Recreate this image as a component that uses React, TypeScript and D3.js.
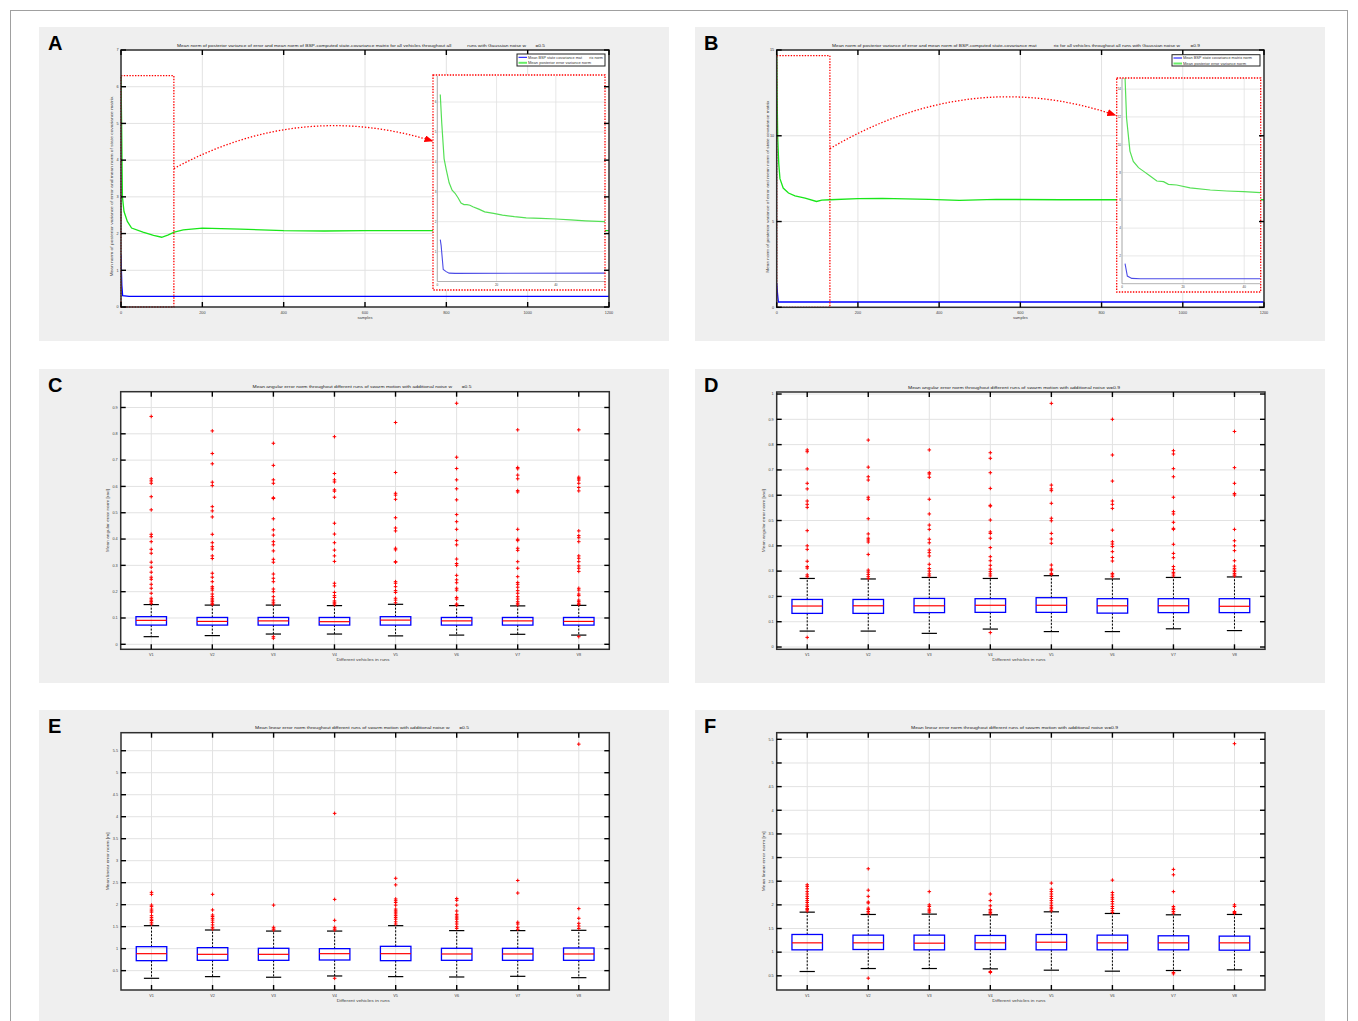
import React from 'react';
import * as d3 from 'd3';

type Pt = [number, number];
const FONT = "'Liberation Sans', Arial, Helvetica, sans-serif";

// ================= Panel A (w = 0.5) =================
const aXTicks = [0, 200, 400, 600, 800, 1000, 1200];
const aYTicks = [0, 1, 2, 3, 4, 5, 6, 7];
const aGreen: Pt[] = [[0, 6.3], [1.6, 4.9], [3.5, 3.0], [7.4, 2.6], [15.6, 2.33], [26, 2.15], [54, 2.04], [80, 1.95], [100, 1.9], [115, 1.96], [131, 2.04], [153, 2.1], [200, 2.15], [293, 2.12], [400, 2.08], [500, 2.07], [600, 2.08], [800, 2.08], [1200, 2.08]];
const aBlue: Pt[] = [[0, 1.42], [2, 0.6], [4, 0.31], [20, 0.29], [1200, 0.29]];
const aInsetGreen: Pt[] = [[1, 6.25], [1.5, 5.3], [2.3, 4.1], [3, 3.75], [4, 3.3], [5, 3.05], [6, 2.95], [7, 2.8], [8, 2.62], [9, 2.57], [10, 2.57], [11, 2.55], [12, 2.5], [14, 2.42], [16, 2.33], [19, 2.28], [22, 2.22], [26, 2.17], [30, 2.13], [35, 2.11], [40, 2.09], [45, 2.06], [50, 2.03], [56.6, 2.0]];
const aInsetBlue: Pt[] = [[1, 1.4], [1.3, 1.2], [2, 0.4], [3, 0.33], [4, 0.28], [6, 0.27], [56.6, 0.28]];
const aInsetXTicks = [0, 20, 40];
const aInsetYTicks = [1, 2, 3, 4, 5, 6];

// ================= Panel B (w = 0.9) =================
const bXTicks = [0, 200, 400, 600, 800, 1000, 1200];
const bYTicks = [0, 5, 10, 15];
const bGreen: Pt[] = [[0, 14.8], [1, 12.4], [2.5, 9.9], [5, 8.4], [8, 7.5], [16, 6.95], [29, 6.66], [45, 6.5], [70, 6.37], [98, 6.17], [111, 6.25], [131, 6.27], [200, 6.33], [260, 6.35], [375, 6.29], [450, 6.23], [540, 6.29], [700, 6.27], [850, 6.27], [1200, 6.27]];
const bBlue: Pt[] = [[0, 1.42], [2, 0.8], [4, 0.31], [1200, 0.31]];
const bInsetGreen: Pt[] = [[0.8, 15.5], [1.0, 14.8], [1.5, 11.9], [2.6, 9.54], [3.7, 8.8], [5.4, 8.35], [7.0, 8.1], [9.2, 7.75], [11.4, 7.39], [13.6, 7.34], [15.2, 7.15], [17.9, 7.1], [22.3, 6.9], [28.9, 6.74], [34.3, 6.67], [39.8, 6.62], [45.4, 6.55]];
const bInsetBlue: Pt[] = [[1.0, 1.44], [1.75, 0.55], [3.2, 0.38], [6, 0.36], [45.4, 0.36]];
const bInsetXTicks = [0, 20, 40];
const bInsetYTicks = [2, 4, 6, 8, 10, 12, 14];

// ================= Box plots =================
const vehicles = ['V1', 'V2', 'V3', 'V4', 'V5', 'V6', 'V7', 'V8'];

// C: angular error, w = 0.5
const cTicks = [0, 0.1, 0.2, 0.3, 0.4, 0.5, 0.6, 0.7, 0.8, 0.9];
const cQ1 = [0.073, 0.073, 0.073, 0.073, 0.073, 0.073, 0.073, 0.073];
const cMed = [0.091, 0.087, 0.089, 0.086, 0.092, 0.089, 0.089, 0.087];
const cQ3 = [0.105, 0.102, 0.102, 0.102, 0.105, 0.102, 0.102, 0.102];
const cLo = [0.029, 0.033, 0.039, 0.039, 0.032, 0.035, 0.038, 0.035];
const cHi = [0.151, 0.149, 0.149, 0.147, 0.152, 0.147, 0.146, 0.148];
const cOut = [
  [0.866, 0.629, 0.621, 0.612, 0.561, 0.511, 0.418, 0.409, 0.39, 0.361, 0.346, 0.312, 0.293, 0.274, 0.255, 0.247, 0.228, 0.213, 0.194, 0.175, 0.168, 0.162, 0.156],
  [0.811, 0.725, 0.686, 0.616, 0.603, 0.523, 0.507, 0.484, 0.418, 0.386, 0.371, 0.362, 0.336, 0.326, 0.27, 0.255, 0.238, 0.219, 0.213, 0.206, 0.191, 0.181, 0.173, 0.168, 0.162, 0.156, 0.151],
  [0.764, 0.68, 0.625, 0.612, 0.557, 0.554, 0.477, 0.435, 0.415, 0.39, 0.378, 0.355, 0.323, 0.312, 0.267, 0.251, 0.238, 0.21, 0.2, 0.181, 0.168, 0.16, 0.153, 0.029, 0.023],
  [0.789, 0.649, 0.625, 0.617, 0.587, 0.582, 0.559, 0.46, 0.419, 0.386, 0.358, 0.336, 0.315, 0.232, 0.222, 0.197, 0.185, 0.178, 0.165, 0.16, 0.156, 0.15],
  [0.843, 0.653, 0.574, 0.567, 0.551, 0.481, 0.442, 0.431, 0.365, 0.359, 0.314, 0.312, 0.238, 0.232, 0.219, 0.204, 0.197, 0.175, 0.168, 0.158],
  [0.916, 0.711, 0.668, 0.625, 0.591, 0.549, 0.493, 0.466, 0.437, 0.394, 0.378, 0.324, 0.307, 0.3, 0.262, 0.245, 0.234, 0.213, 0.206, 0.178, 0.172, 0.153, 0.149],
  [0.815, 0.672, 0.667, 0.643, 0.629, 0.584, 0.579, 0.437, 0.399, 0.394, 0.365, 0.357, 0.314, 0.289, 0.257, 0.235, 0.228, 0.217, 0.204, 0.194, 0.181, 0.172, 0.162, 0.156, 0.15],
  [0.815, 0.635, 0.629, 0.624, 0.612, 0.596, 0.583, 0.431, 0.413, 0.405, 0.39, 0.336, 0.327, 0.314, 0.298, 0.289, 0.277, 0.213, 0.206, 0.191, 0.185, 0.168, 0.162, 0.156, 0.151, 0.029],
];

// D: angular error, w = 0.9
const dTicks = [0, 0.1, 0.2, 0.3, 0.4, 0.5, 0.6, 0.7, 0.8, 0.9, 1];
const dQ1 = [0.133, 0.133, 0.136, 0.137, 0.137, 0.134, 0.136, 0.136];
const dMed = [0.162, 0.163, 0.163, 0.165, 0.165, 0.163, 0.163, 0.161];
const dQ3 = [0.188, 0.188, 0.192, 0.191, 0.195, 0.191, 0.191, 0.191];
const dLo = [0.063, 0.063, 0.054, 0.071, 0.061, 0.061, 0.072, 0.065];
const dHi = [0.271, 0.269, 0.275, 0.271, 0.282, 0.269, 0.275, 0.277];
const dOut = [
  [0.779, 0.772, 0.704, 0.647, 0.625, 0.577, 0.564, 0.552, 0.46, 0.4, 0.386, 0.339, 0.318, 0.312, 0.285, 0.278, 0.038],
  [0.818, 0.711, 0.673, 0.66, 0.592, 0.584, 0.507, 0.447, 0.43, 0.423, 0.415, 0.366, 0.304, 0.296, 0.287, 0.278, 0.271],
  [0.779, 0.689, 0.684, 0.671, 0.584, 0.526, 0.482, 0.465, 0.426, 0.412, 0.383, 0.373, 0.36, 0.327, 0.31, 0.3, 0.289, 0.281],
  [0.768, 0.746, 0.689, 0.627, 0.56, 0.557, 0.502, 0.455, 0.449, 0.43, 0.393, 0.357, 0.341, 0.323, 0.308, 0.298, 0.289, 0.281, 0.057],
  [0.963, 0.64, 0.625, 0.618, 0.568, 0.509, 0.499, 0.449, 0.427, 0.41, 0.324, 0.308, 0.304, 0.291, 0.287],
  [0.9, 0.759, 0.656, 0.577, 0.564, 0.548, 0.462, 0.416, 0.407, 0.397, 0.377, 0.354, 0.34, 0.291, 0.285, 0.278],
  [0.776, 0.763, 0.705, 0.673, 0.592, 0.535, 0.526, 0.493, 0.469, 0.465, 0.406, 0.37, 0.353, 0.318, 0.307, 0.295, 0.289, 0.281],
  [0.852, 0.709, 0.647, 0.607, 0.601, 0.465, 0.42, 0.4, 0.381, 0.341, 0.32, 0.311, 0.304, 0.298, 0.291, 0.285, 0.281],
];

// E: linear error, w = 0.5
const eTicks = [0.5, 1, 1.5, 2, 2.5, 3, 3.5, 4, 4.5, 5, 5.5];
const eQ1 = [0.727, 0.735, 0.735, 0.742, 0.727, 0.735, 0.735, 0.735];
const eMed = [0.886, 0.871, 0.871, 0.886, 0.886, 0.879, 0.879, 0.879];
const eQ3 = [1.045, 1.023, 1.008, 1.0, 1.053, 1.008, 1.008, 1.015];
const eLo = [0.326, 0.364, 0.35, 0.379, 0.364, 0.356, 0.371, 0.34];
const eHi = [1.523, 1.424, 1.4, 1.4, 1.523, 1.41, 1.41, 1.417];
const eOut = [
  [2.28, 2.235, 1.99, 1.955, 1.9, 1.86, 1.83, 1.75, 1.71, 1.67, 1.64, 1.6, 1.56],
  [2.235, 1.88, 1.765, 1.73, 1.69, 1.65, 1.6, 1.54, 1.485, 1.447],
  [1.99, 1.485, 1.447, 1.424],
  [4.076, 2.12, 1.644, 1.485, 1.447, 1.424, 0.326],
  [2.6, 2.45, 2.13, 2.09, 2.05, 1.99, 1.9, 1.86, 1.83, 1.79, 1.75, 1.71, 1.67, 1.61, 1.56],
  [2.14, 2.1, 1.99, 1.856, 1.78, 1.74, 1.7, 1.67, 1.61, 1.56, 1.5, 1.46],
  [2.55, 2.265, 1.6, 1.56, 1.485, 1.44],
  [5.65, 1.91, 1.69, 1.576, 1.515, 1.46],
];

// F: linear error, w = 0.9
const fTicks = [0.5, 1, 1.5, 2, 2.5, 3, 3.5, 4, 4.5, 5, 5.5];
const fQ1 = [1.049, 1.056, 1.049, 1.056, 1.049, 1.049, 1.049, 1.042];
const fMed = [1.197, 1.197, 1.19, 1.197, 1.21, 1.197, 1.197, 1.197];
const fQ3 = [1.374, 1.36, 1.36, 1.353, 1.374, 1.36, 1.346, 1.339];
const fLo = [0.591, 0.654, 0.654, 0.647, 0.619, 0.598, 0.612, 0.626];
const fHi = [1.846, 1.797, 1.804, 1.79, 1.853, 1.818, 1.79, 1.797];
const fOut = [
  [2.425, 2.39, 2.34, 2.28, 2.23, 2.18, 2.135, 2.09, 2.05, 2.0, 1.966, 1.924, 1.9, 1.87],
  [2.763, 2.31, 2.18, 2.06, 2.04, 1.93, 1.9, 1.86, 1.825, 0.45],
  [2.28, 2.0, 1.966, 1.91, 1.875, 1.846],
  [2.23, 2.09, 1.98, 1.9, 1.87, 1.84, 1.81, 0.59, 0.57],
  [2.46, 2.33, 2.28, 2.23, 2.18, 2.135, 2.09, 2.04, 1.99, 1.95, 1.917, 1.875],
  [2.523, 2.26, 2.21, 2.16, 2.12, 2.07, 2.02, 1.966, 1.924, 1.875, 1.84],
  [2.75, 2.636, 2.28, 1.966, 1.93, 1.9, 1.86, 1.825, 0.57, 0.542],
  [5.408, 2.0, 1.966, 1.86, 1.84, 1.818],
];

// ================= styling =================
const RED = '#ff0000';
const BLUE = '#0000ff';
const GREEN = '#19e619';
const GRID = '#e2e2e2';
const AXIS = '#303030';
const TXT = '#404040';
const PANEL_BG = '#efefef';

const fmt = (v: number) => String(+v.toFixed(2));

type Rect = { x0: number; x1: number; y0: number; y1: number };

function Ticks({ p, xs, ys, len = 5, w = 1.4 }: { p: Rect; xs: number[]; ys: number[]; len?: number; w?: number }) {
  return (
    <g stroke="#000" strokeWidth={w}>
      {xs.map((x, i) => (
        <g key={'x' + i}>
          <line x1={x} x2={x} y1={p.y1} y2={p.y1 - len} />
          <line x1={x} x2={x} y1={p.y0} y2={p.y0 + len} />
        </g>
      ))}
      {ys.map((y, i) => (
        <g key={'y' + i}>
          <line x1={p.x0} x2={p.x0 + len} y1={y} y2={y} />
          <line x1={p.x1} x2={p.x1 - len} y1={y} y2={y} />
        </g>
      ))}
    </g>
  );
}

function PanelBg({ x, y, w, h, letter }: { x: number; y: number; w: number; h: number; letter: string }) {
  return (
    <g>
      <rect x={x} y={y} width={w} height={h} fill={PANEL_BG} />
      <text x={x + 9} y={y + 23} fontFamily={FONT} fontWeight="bold" fontSize={20} fill="#000">{letter}</text>
    </g>
  );
}

type LineCfg = {
  id: string;
  plot: Rect;
  yDomain: [number, number];
  xTicks: number[];
  yTicks: number[];
  title: string; titleX: number; titleLen: number;
  ylabel: string; ylabelLen: number;
  green: Pt[]; blue: Pt[];
  zoomBox: Pt;
  arc: [Pt, Pt, Pt];
  box: Rect;
  inset: Rect;
  insetX: [number, number]; insetY: [number, number];
  insetXTicks: number[]; insetYTicks: number[];
  insetGreen: Pt[]; insetBlue: Pt[];
  legend: Rect; legendLabels: [string, string]; legendLens: [number, number];
};

function LinePanel({ c }: { c: LineCfg }) {
  const p = c.plot;
  const x = d3.scaleLinear().domain([0, 1200]).range([p.x0, p.x1]);
  const y = d3.scaleLinear().domain(c.yDomain).range([p.y1, p.y0]);
  const line = d3.line<Pt>().x(d => x(d[0])).y(d => y(d[1]));
  const q = c.inset;
  const ix = d3.scaleLinear().domain(c.insetX).range([q.x0, q.x1]);
  const iy = d3.scaleLinear().domain(c.insetY).range([q.y1, q.y0]);
  const iline = d3.line<Pt>().x(d => ix(d[0])).y(d => iy(d[1]));
  const arc = d3.path();
  arc.moveTo(x(c.arc[0][0]), y(c.arc[0][1]));
  arc.quadraticCurveTo(x(c.arc[1][0]), y(c.arc[1][1]), x(c.arc[2][0]), y(c.arc[2][1]));
  const L = c.legend;
  const midY = (p.y0 + p.y1) / 2;
  return (
    <g>
      <defs>
        <clipPath id={'clip' + c.id}><rect x={p.x0} y={p.y0} width={p.x1 - p.x0} height={p.y1 - p.y0} /></clipPath>
        <clipPath id={'iclip' + c.id}><rect x={q.x0} y={q.y0} width={q.x1 - q.x0} height={q.y1 - q.y0} /></clipPath>
        <marker id={'arr' + c.id} markerWidth={9} markerHeight={7} refX={8} refY={3.5} orient="auto" markerUnits="userSpaceOnUse">
          <path d="M0,0 L9,3.5 L0,7 Z" fill={RED} />
        </marker>
      </defs>
      <rect x={p.x0} y={p.y0} width={p.x1 - p.x0} height={p.y1 - p.y0} fill="#fff" />
      {c.xTicks.map((t, i) => <line key={'gx' + i} x1={x(t)} x2={x(t)} y1={p.y0} y2={p.y1} stroke={GRID} strokeWidth={1} />)}
      {c.yTicks.map((t, i) => <line key={'gy' + i} x1={p.x0} x2={p.x1} y1={y(t)} y2={y(t)} stroke={GRID} strokeWidth={1} />)}
      <g clipPath={`url(#clip${c.id})`}>
        <path d={line(c.green) || ''} fill="none" stroke={GREEN} strokeWidth={1.3} />
        <path d={line(c.blue) || ''} fill="none" stroke={BLUE} strokeWidth={1.3} />
      </g>
      {/* zoom rectangle */}
      <rect x={x(0)} y={y(c.zoomBox[1])} width={x(c.zoomBox[0]) - x(0)} height={y(c.yDomain[0]) - y(c.zoomBox[1])}
        fill="none" stroke={RED} strokeWidth={1.3} strokeDasharray="1.4,1.4" />
      {/* inset */}
      <rect x={c.box.x0} y={c.box.y0} width={c.box.x1 - c.box.x0} height={c.box.y1 - c.box.y0} fill="#fff" />
      {c.insetXTicks.map((t, i) => <line key={'igx' + i} x1={ix(t)} x2={ix(t)} y1={q.y0} y2={q.y1} stroke={GRID} strokeWidth={0.8} />)}
      {c.insetYTicks.map((t, i) => <line key={'igy' + i} x1={q.x0} x2={q.x1} y1={iy(t)} y2={iy(t)} stroke={GRID} strokeWidth={0.8} />)}
      <g clipPath={`url(#iclip${c.id})`}>
        <path d={iline(c.insetGreen) || ''} fill="none" stroke="#55e055" strokeWidth={1.2} />
        <path d={iline(c.insetBlue) || ''} fill="none" stroke="#4b4be6" strokeWidth={1.1} />
      </g>
      <line x1={q.x0} x2={q.x0} y1={q.y0} y2={q.y1} stroke="#aaa" strokeWidth={0.9} />
      <line x1={q.x0} x2={q.x1} y1={q.y1} y2={q.y1} stroke="#aaa" strokeWidth={0.9} />
      {c.insetXTicks.map((t, i) => <text key={'ixl' + i} x={ix(t)} y={q.y1 + 4} fontSize={3} fontFamily={FONT} fill={TXT} textAnchor="middle">{t}</text>)}
      {c.insetYTicks.map((t, i) => <text key={'iyl' + i} x={q.x0 - 1} y={iy(t) + 1} fontSize={3} fontFamily={FONT} fill={TXT} textAnchor="end">{t}</text>)}
      <rect x={c.box.x0} y={c.box.y0} width={c.box.x1 - c.box.x0} height={c.box.y1 - c.box.y0}
        fill="none" stroke={RED} strokeWidth={1.3} strokeDasharray="1.4,1.4" />
      <path d={arc.toString()} fill="none" stroke={RED} strokeWidth={1.3} strokeDasharray="1.4,1.8" markerEnd={`url(#arr${c.id})`} />
      {/* frame */}
      <rect x={p.x0} y={p.y0} width={p.x1 - p.x0} height={p.y1 - p.y0} fill="none" stroke={AXIS} strokeWidth={1.5} />
      <Ticks p={p} xs={c.xTicks.map(t => x(t))} ys={c.yTicks.map(t => y(t))} />
      {c.xTicks.map((t, i) => <text key={'xl' + i} x={x(t)} y={p.y1 + 6.5} fontSize={3.8} fontFamily={FONT} fill={TXT} textAnchor="middle">{t}</text>)}
      {c.yTicks.map((t, i) => <text key={'yl' + i} x={p.x0 - 2.5} y={y(t) + 1.3} fontSize={3.8} fontFamily={FONT} fill={TXT} textAnchor="end">{t}</text>)}
      <text x={(p.x0 + p.x1) / 2} y={p.y1 + 12} fontSize={4} fontFamily={FONT} fill={TXT} textAnchor="middle">samples</text>
      <text x={c.titleX} y={p.y0 - 3.5} fontSize={4.3} fontFamily={FONT} fill="#222" textAnchor="middle"
        textLength={c.titleLen} lengthAdjust="spacingAndGlyphs" style={{ whiteSpace: 'pre' }}>{c.title}</text>
      <text transform={`translate(${p.x0 - 8},${midY + 8}) rotate(-90)`} fontSize={4} fontFamily={FONT} fill={TXT} textAnchor="middle"
        textLength={c.ylabelLen} lengthAdjust="spacingAndGlyphs" style={{ whiteSpace: 'pre' }}>{c.ylabel}</text>
      {/* legend */}
      <rect x={L.x0} y={L.y0} width={L.x1 - L.x0} height={L.y1 - L.y0} fill="#fff" stroke="#222" strokeWidth={1} />
      <line x1={L.x0 + 1.5} x2={L.x0 + 10} y1={L.y0 + 3.3} y2={L.y0 + 3.3} stroke={BLUE} strokeWidth={1} />
      <line x1={L.x0 + 1.5} x2={L.x0 + 10} y1={L.y0 + 8.8} y2={L.y0 + 8.8} stroke="#66ee66" strokeWidth={2} />
      <text x={L.x0 + 11} y={L.y0 + 4.5} fontSize={3.2} fontFamily={FONT} fill="#333" textLength={c.legendLens[0]} lengthAdjust="spacingAndGlyphs" style={{ whiteSpace: 'pre' }}>{c.legendLabels[0]}</text>
      <text x={L.x0 + 11} y={L.y0 + 10} fontSize={3.2} fontFamily={FONT} fill="#333" textLength={c.legendLens[1]} lengthAdjust="spacingAndGlyphs">{c.legendLabels[1]}</text>
    </g>
  );
}

type BoxCfg = {
  id: string;
  plot: Rect;
  yDomain: [number, number];
  yTicks: number[];
  q1: number[]; med: number[]; q3: number[]; lo: number[]; hi: number[]; out: number[][];
  title: string; titleX: number; titleLen: number;
  ylabel: string; ylabelLen: number;
};

function BoxPanel({ c }: { c: BoxCfg }) {
  const p = c.plot;
  const x = d3.scaleBand<string>().domain(vehicles).range([p.x0, p.x1]).padding(0);
  const bw = x.bandwidth();
  const cx = (v: string) => (x(v) as number) + bw / 2;
  const y = d3.scaleLinear().domain(c.yDomain).range([p.y1, p.y0]);
  const hw = bw * 0.25;
  const cw = bw * 0.125;
  return (
    <g>
      <rect x={p.x0} y={p.y0} width={p.x1 - p.x0} height={p.y1 - p.y0} fill="#fff" />
      {vehicles.map((v, i) => <line key={'gx' + i} x1={cx(v)} x2={cx(v)} y1={p.y0} y2={p.y1} stroke={GRID} strokeWidth={1} />)}
      {c.yTicks.map((t, i) => <line key={'gy' + i} x1={p.x0} x2={p.x1} y1={y(t)} y2={y(t)} stroke={GRID} strokeWidth={1} />)}
      {vehicles.map((v, i) => {
        const X = cx(v);
        return (
          <g key={v}>
            <line x1={X} x2={X} y1={y(c.q3[i])} y2={y(c.hi[i])} stroke="#000" strokeWidth={1} strokeDasharray="2,1.5" />
            <line x1={X} x2={X} y1={y(c.q1[i])} y2={y(c.lo[i])} stroke="#000" strokeWidth={1} strokeDasharray="2,1.5" />
            <line x1={X - cw} x2={X + cw} y1={y(c.hi[i])} y2={y(c.hi[i])} stroke="#000" strokeWidth={1.2} />
            <line x1={X - cw} x2={X + cw} y1={y(c.lo[i])} y2={y(c.lo[i])} stroke="#000" strokeWidth={1.2} />
            <rect x={X - hw} y={y(c.q3[i])} width={hw * 2} height={y(c.q1[i]) - y(c.q3[i])} fill="none" stroke={BLUE} strokeWidth={1.3} />
            <line x1={X - hw} x2={X + hw} y1={y(c.med[i])} y2={y(c.med[i])} stroke={RED} strokeWidth={1.2} />
            {c.out[i].map((o, j) => (
              <path key={j} d={`M${X - 1.8},${y(o)}h3.6M${X},${y(o) - 1.8}v3.6`} stroke={RED} strokeWidth={1} />
            ))}
          </g>
        );
      })}
      <rect x={p.x0} y={p.y0} width={p.x1 - p.x0} height={p.y1 - p.y0} fill="none" stroke={AXIS} strokeWidth={1.5} />
      <Ticks p={p} xs={vehicles.map(cx)} ys={c.yTicks.map(t => y(t))} />
      {vehicles.map((v, i) => <text key={'xl' + i} x={cx(v)} y={p.y1 + 6.5} fontSize={3.8} fontFamily={FONT} fill={TXT} textAnchor="middle">{v}</text>)}
      {c.yTicks.map((t, i) => <text key={'yl' + i} x={p.x0 - 3} y={y(t) + 1.3} fontSize={3.8} fontFamily={FONT} fill={TXT} textAnchor="end">{fmt(t)}</text>)}
      <text x={(p.x0 + p.x1) / 2 - 2} y={p.y1 + 12} fontSize={4} fontFamily={FONT} fill={TXT} textAnchor="middle" textLength={53} lengthAdjust="spacingAndGlyphs">Different vehicles in runs</text>
      <text x={c.titleX} y={p.y0 - 3.5} fontSize={4.3} fontFamily={FONT} fill="#222" textAnchor="middle"
        textLength={c.titleLen} lengthAdjust="spacingAndGlyphs" style={{ whiteSpace: 'pre' }}>{c.title}</text>
      <text transform={`translate(${p.x0 - 12},${(p.y0 + p.y1) / 2}) rotate(-90)`} fontSize={4} fontFamily={FONT} fill={TXT} textAnchor="middle"
        textLength={c.ylabelLen} lengthAdjust="spacingAndGlyphs">{c.ylabel}</text>
    </g>
  );
}

const cfgA: LineCfg = {
  id: 'A', plot: { x0: 121, x1: 609, y0: 50, y1: 307 }, yDomain: [0, 7], xTicks: aXTicks, yTicks: aYTicks,
  title: 'Mean norm of posterior variance of error and mean norm of BSP-computed state-covariance matrix for all vehicles throughout all            runs with Gaussian noise w       =0.5',
  titleX: 361, titleLen: 368,
  ylabel: 'Mean norm of posterior variance of error and mean norm of state covariance matrix', ylabelLen: 180,
  green: aGreen, blue: aBlue, zoomBox: [130, 6.3],
  arc: [[130, 3.77], [440, 5.64], [766, 4.52]],
  box: { x0: 433, x1: 605, y0: 75, y1: 290 },
  inset: { x0: 437.3, x1: 605, y0: 76, y1: 281.5 }, insetX: [0, 56.6], insetY: [0, 6.87],
  insetXTicks: aInsetXTicks, insetYTicks: aInsetYTicks, insetGreen: aInsetGreen, insetBlue: aInsetBlue,
  legend: { x0: 517, x1: 605, y0: 54, y1: 66 },
  legendLabels: ['Mean BSP state covariance mat       rix norm', 'Mean posterior error variance norm'], legendLens: [75, 63],
};

const cfgB: LineCfg = {
  id: 'B', plot: { x0: 776.7, x1: 1264, y0: 50, y1: 307.3 }, yDomain: [0, 15], xTicks: bXTicks, yTicks: bYTicks,
  title: 'Mean norm of posterior variance of error and mean norm of BSP-computed state-covariance mat             rix for all vehicles throughout all runs with Gaussian noise w        =0.9',
  titleX: 1016, titleLen: 368,
  ylabel: 'Mean norm of posterior variance of error and mean norm of state covariance matrix', ylabelLen: 172,
  green: bGreen, blue: bBlue, zoomBox: [131, 14.67],
  arc: [[131, 9.25], [476, 14.07], [834, 11.2]],
  box: { x0: 1116.7, x1: 1260.7, y0: 78, y1: 292 },
  inset: { x0: 1122, x1: 1260.7, y0: 78, y1: 283.7 }, insetX: [0, 45.4], insetY: [0, 14.8],
  insetXTicks: bInsetXTicks, insetYTicks: bInsetYTicks, insetGreen: bInsetGreen, insetBlue: bInsetBlue,
  legend: { x0: 1172, x1: 1260, y0: 54.7, y1: 66 },
  legendLabels: ['Mean BSP state covariance matrix norm', 'Mean posterior error variance norm'], legendLens: [69, 63],
};

const cfgC: BoxCfg = {
  id: 'C', plot: { x0: 120.7, x1: 609.3, y0: 391.7, y1: 649.3 }, yDomain: [-0.019, 0.96], yTicks: cTicks,
  q1: cQ1, med: cMed, q3: cQ3, lo: cLo, hi: cHi, out: cOut,
  title: 'Mean angular error norm throughout different runs of swarm motion with additional noise w       =0.5', titleX: 362, titleLen: 219,
  ylabel: 'Mean angular error norm [rad]', ylabelLen: 63,
};
const cfgD: BoxCfg = {
  id: 'D', plot: { x0: 776.7, x1: 1265, y0: 392, y1: 649.3 }, yDomain: [-0.009, 1.008], yTicks: dTicks,
  q1: dQ1, med: dMed, q3: dQ3, lo: dLo, hi: dHi, out: dOut,
  title: 'Mean angular error norm throughout different runs of swarm motion with additional noise w=0.9', titleX: 1014, titleLen: 212,
  ylabel: 'Mean angular error norm [rad]', ylabelLen: 63,
};
const cfgE: BoxCfg = {
  id: 'E', plot: { x0: 121, x1: 609.3, y0: 732.7, y1: 990 }, yDomain: [0.06, 5.91], yTicks: eTicks,
  q1: eQ1, med: eMed, q3: eQ3, lo: eLo, hi: eHi, out: eOut,
  title: 'Mean linear error norm throughout different runs of swarm motion with additional noise w       =0.5', titleX: 362, titleLen: 214,
  ylabel: 'Mean linear error norm [m]', ylabelLen: 58,
};
const cfgF: BoxCfg = {
  id: 'F', plot: { x0: 776.7, x1: 1265, y0: 732.7, y1: 990 }, yDomain: [0.2, 5.64], yTicks: fTicks,
  q1: fQ1, med: fMed, q3: fQ3, lo: fLo, hi: fHi, out: fOut,
  title: 'Mean linear error norm throughout different runs of swarm motion with additional noise w=0.9', titleX: 1014.6, titleLen: 207,
  ylabel: 'Mean linear error norm [m]', ylabelLen: 60,
};

export default function App() {
  return (
    <svg width={1358} height={1021} viewBox="0 0 1358 1021"
      style={{ position: 'absolute', left: 0, top: 0, background: '#fff', display: 'block' }}>
      <rect x={0} y={0} width={1358} height={1021} fill="#fff" />
      <rect x={10.5} y={10.5} width={1337} height={1030} fill="none" stroke="#a0a0a0" strokeWidth={1} />
      <PanelBg x={39} y={27} w={630} h={314} letter="A" />
      <PanelBg x={695} y={27} w={630} h={314} letter="B" />
      <PanelBg x={39} y={369} w={630} h={314} letter="C" />
      <PanelBg x={695} y={369} w={630} h={314} letter="D" />
      <PanelBg x={39} y={710} w={630} h={320} letter="E" />
      <PanelBg x={695} y={710} w={630} h={320} letter="F" />
      <LinePanel c={cfgA} />
      <LinePanel c={cfgB} />
      <BoxPanel c={cfgC} />
      <BoxPanel c={cfgD} />
      <BoxPanel c={cfgE} />
      <BoxPanel c={cfgF} />
    </svg>
  );
}
